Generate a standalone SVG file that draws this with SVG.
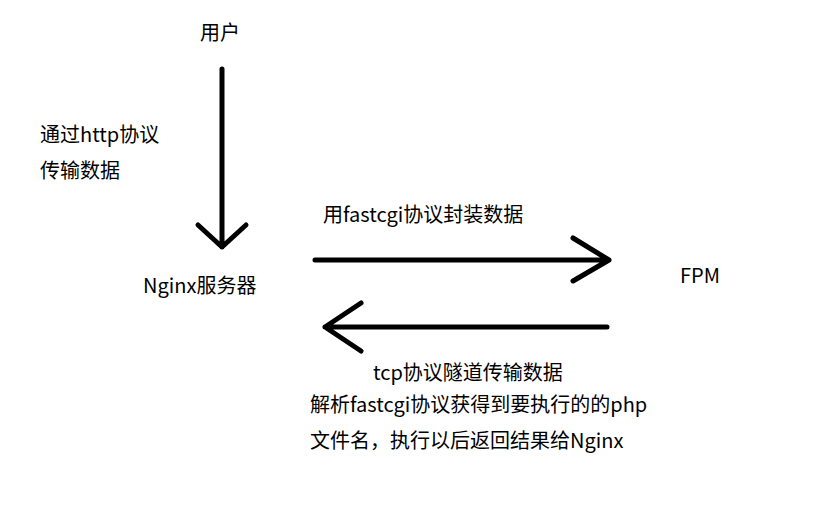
<svg xmlns="http://www.w3.org/2000/svg" width="813" height="513" viewBox="0 0 813 513">
<style>
text{font-family:"Noto Sans CJK SC","Noto Sans",sans-serif;font-size:20px;fill:#000}
.ln{stroke:#000;stroke-width:5;fill:none;stroke-linecap:round;stroke-linejoin:round}
</style>
<rect width="813" height="513" fill="#fff"/>
<g id="connectors">
<path class="ln" d="M222,69 V247 M198,225 L222,247 L246,225"/>
<path class="ln" d="M315,260 H609 M573,238 L609,260 L573,281"/>
<path class="ln" d="M607,327 H325 M361,303 L325,327 L361,351"/>
</g>
<g id="user"><text x="200" y="40">用户</text></g>
<g id="label-http"><text x="40" y="142">通过http协议</text><text x="40" y="178">传输数据</text></g>
<g id="nginx"><text x="143" y="293">Nginx服务器</text></g>
<g id="fpm"><text x="680" y="283">FPM</text></g>
<g id="label-fastcgi"><text x="323" y="222">用fastcgi协议封装数据</text></g>
<g id="label-tcp"><text x="373" y="380">tcp协议隧道传输数据</text><text x="310" y="412">解析fastcgi协议获得到要执行的的php</text><text x="310" y="448">文件名，执行以后返回结果给Nginx</text></g>
</svg>
